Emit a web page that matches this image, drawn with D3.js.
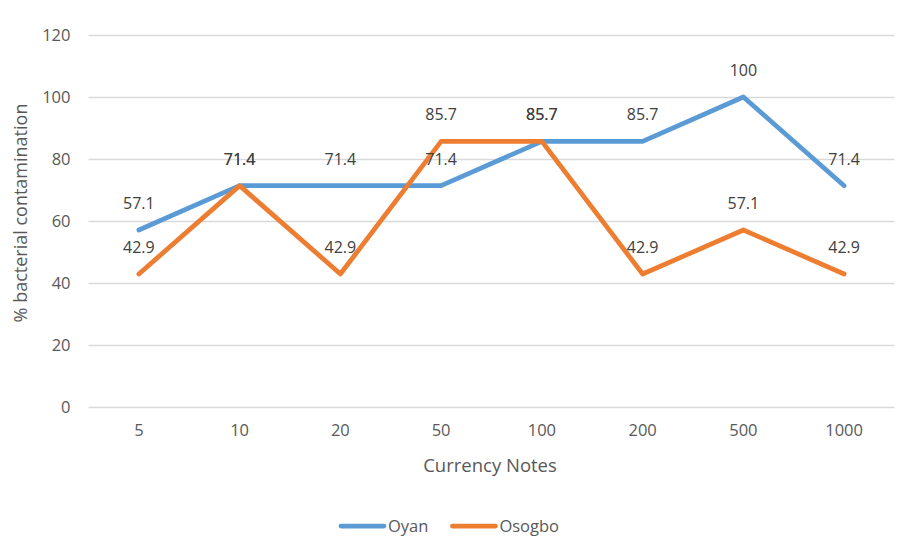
<!DOCTYPE html>
<html>
<head>
<meta charset="utf-8">
<script src="https://cdn.jsdelivr.net/npm/d3@7"></script>
<style>
  html, body { margin: 0; padding: 0; background: #ffffff; }
  svg { display: block; font-family: "Open Sans", sans-serif; }
</style>
</head>
<body>
<svg id="chart" width="904" height="541"></svg>
<script>
// Currency note denominations and contamination rates (%)
const notes = ["5", "10", "20", "50", "100", "200", "500", "1000"];
const oyan = [57.1, 71.4, 71.4, 71.4, 85.7, 85.7, 100, 71.4];
const osogbo = [42.9, 71.4, 42.9, 85.7, 85.7, 42.9, 57.1, 42.9];
const yTicks = [0, 20, 40, 60, 80, 100, 120];
const seriesNames = ["Oyan", "Osogbo"];
const seriesColors = ["#5b9bd5", "#ed7d31"];

const svg = d3.select("#chart");
const plot = { left: 88.5, right: 894.5, top: 35, bottom: 407 };

const x = d3.scaleBand().domain(notes).range([plot.left, plot.right]);
const y = d3.scaleLinear().domain([0, 120]).range([plot.bottom, plot.top]);

// horizontal gridlines
svg.append("g")
  .selectAll("line")
  .data(yTicks)
  .join("line")
  .attr("x1", plot.left)
  .attr("x2", plot.right)
  .attr("y1", d => Math.round(y(d)) + 0.5)
  .attr("y2", d => Math.round(y(d)) + 0.5)
  .attr("stroke", "#d9d9d9")
  .attr("stroke-width", 1.3);

// y axis tick labels
const yAxis = d3.axisLeft(y).tickValues(yTicks).tickSize(0).tickPadding(0);
svg.append("g")
  .attr("transform", `translate(${plot.left - 18},0)`)
  .call(yAxis)
  .call(g => g.select(".domain").remove())
  .call(g => g.selectAll("text")
    .attr("fill", "#595959")
    .style("font-size", "16.5px")
    .style("font-family", "Open Sans, sans-serif"));

// x axis tick labels
const xAxis = d3.axisBottom(x).tickSize(0).tickPadding(0);
svg.append("g")
  .attr("transform", `translate(0,${plot.bottom + 17})`)
  .call(xAxis)
  .call(g => g.select(".domain").remove())
  .call(g => g.selectAll("text")
    .attr("fill", "#595959")
    .style("font-size", "16.5px")
    .style("font-family", "Open Sans, sans-serif"));

// axis titles
svg.append("text")
  .attr("x", 490)
  .attr("y", 472)
  .attr("text-anchor", "middle")
  .attr("fill", "#595959")
  .style("font-size", "18.5px")
  .text("Currency Notes");

svg.append("text")
  .attr("transform", "translate(27,213) rotate(-90)")
  .attr("text-anchor", "middle")
  .attr("fill", "#595959")
  .style("font-size", "18px")
  .text("% bacterial contamination");

// series lines
const series = [oyan, osogbo];
const line = d3.line()
  .x((d, i) => x(notes[i]) + x.bandwidth() / 2)
  .y(d => y(d));

svg.append("g")
  .selectAll("path")
  .data(series)
  .join("path")
  .attr("d", d => line(d))
  .attr("fill", "none")
  .attr("stroke", (d, i) => seriesColors[i])
  .attr("stroke-width", 4.75)
  .attr("stroke-linejoin", "round")
  .attr("stroke-linecap", "round");

// data labels above each point
const labelG = svg.append("g");
series.forEach(vals => {
  labelG.selectAll(null)
    .data(vals)
    .join("text")
    .attr("x", (d, i) => x(notes[i]) + x.bandwidth() / 2)
    .attr("y", d => y(d) - 27 + 6)
    .attr("text-anchor", "middle")
    .attr("fill", "#404040")
    .style("font-size", "16px")
    .text(d => d);
});

// legend
const legend = svg.append("g").attr("transform", "translate(339,526)");
let lx = 0;
seriesNames.forEach((name, i) => {
  const item = legend.append("g").attr("transform", `translate(${lx},0)`);
  item.append("line")
    .attr("x1", 2).attr("x2", 45)
    .attr("y1", 0).attr("y2", 0)
    .attr("stroke", seriesColors[i])
    .attr("stroke-width", 4.75)
    .attr("stroke-linecap", "round");
  const t = item.append("text")
    .attr("x", 49)
    .attr("y", 6)
    .attr("fill", "#595959")
    .style("font-size", "16.5px")
    .text(name);
  lx += 49 + t.node().getComputedTextLength() + 22;
});
</script>
</body>
</html>
